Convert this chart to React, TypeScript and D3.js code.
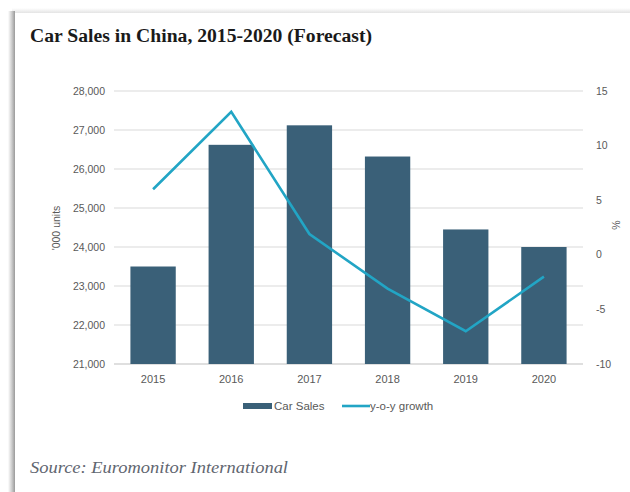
import React from "react";
import * as d3 from "d3";

const years = ["2015", "2016", "2017", "2018", "2019", "2020"];
const carSales = [23500, 26620, 27120, 26320, 24450, 24000];
const growth = [6.0, 13.1, 1.9, -3.1, -7.0, -2.0];
const leftTicks = [21000, 22000, 23000, 24000, 25000, 26000, 27000, 28000];
const rightTicks = [-10, -5, 0, 5, 10, 15];

const W = 630;
const H = 492;
const plot = { left: 114, right: 583, top: 91, bottom: 364 };
const barColor = "#3a6078";
const lineColor = "#22a5c5";
const textColor = "#595959";
const axisFont = "'Liberation Sans', Arial, sans-serif";
const serif = "'Liberation Serif', 'DejaVu Serif', serif";

export default function App() {
  const x = d3.scaleBand<string>().domain(years).range([plot.left, plot.right]).paddingInner(0.42).paddingOuter(0.21);
  const xc = (y: string) => (x(y) as number) + x.bandwidth() / 2;
  const yL = d3.scaleLinear().domain([21000, 28000]).range([plot.bottom, plot.top]);
  const yR = d3.scaleLinear().domain([-10, 15]).range([plot.bottom, plot.top]);
  const fmt = d3.format(",");
  const line = d3
    .line<number>()
    .x((_, i) => xc(years[i]))
    .y((d) => yR(d));

  return (
    <svg width={W} height={H} style={{ position: "absolute", left: 0, top: 0 }} xmlns="http://www.w3.org/2000/svg">
      <defs>
        <linearGradient id="lsh" x1="0" x2="1" y1="0" y2="0">
          <stop offset="0" stopColor="#ffffff" />
          <stop offset="0.5" stopColor="#d0d0d0" />
          <stop offset="1" stopColor="#9a9a9a" />
        </linearGradient>
        <linearGradient id="tsh" x1="0" x2="0" y1="0" y2="1">
          <stop offset="0" stopColor="#ffffff" />
          <stop offset="1" stopColor="#e4e4e4" />
        </linearGradient>
      </defs>
      <rect x={0} y={0} width={W} height={H} fill="#ffffff" />
      <rect x={12} y={8} width={W - 12} height={5} fill="url(#tsh)" />
      <rect x={8} y={11} width={7} height={H - 11} fill="url(#lsh)" />
      <rect x={15} y={13} width={W - 15} height={H - 13} fill="#ffffff" />

      <text x={30} y={42} fontFamily={serif} fontSize={18} fontWeight={700} fill="#1a1a1a" textLength={342} lengthAdjust="spacingAndGlyphs">
        Car Sales in China, 2015-2020 (Forecast)
      </text>

      {leftTicks.map((t) => (
        <line key={"g" + t} x1={plot.left} x2={plot.right} y1={yL(t)} y2={yL(t)} stroke={t === 21000 ? "#bfbfbf" : "#d9d9d9"} strokeWidth={1} />
      ))}

      {years.map((yv, i) => (
        <rect key={"b" + yv} x={x(yv)} y={yL(carSales[i])} width={x.bandwidth()} height={plot.bottom - yL(carSales[i])} fill={barColor} />
      ))}

      <path d={line(growth) as string} fill="none" stroke={lineColor} strokeWidth={2.6} strokeLinejoin="miter" />

      {leftTicks.map((t) => (
        <text key={"l" + t} x={105} y={yL(t)} dy="0.35em" textAnchor="end" fontFamily={axisFont} fontSize={10.5} fill={textColor}>
          {fmt(t)}
        </text>
      ))}
      {rightTicks.map((t) => (
        <text key={"r" + t} x={596} y={yR(t)} dy="0.35em" textAnchor="start" fontFamily={axisFont} fontSize={10.5} fill={textColor}>
          {t}
        </text>
      ))}
      {years.map((yv) => (
        <text key={"x" + yv} x={xc(yv)} y={383} textAnchor="middle" fontFamily={axisFont} fontSize={11} fill={textColor}>
          {yv}
        </text>
      ))}

      <text transform={`translate(60,228) rotate(-90)`} textAnchor="middle" fontFamily={axisFont} fontSize={10.5} fill={textColor}>
        '000 units
      </text>
      <text transform={`translate(620,225) rotate(-90)`} textAnchor="middle" fontFamily={axisFont} fontSize={10.5} fill={textColor}>
        %
      </text>

      <rect x={243} y={403} width={29} height={6} fill={barColor} />
      <text x={274} y={410} fontFamily={axisFont} fontSize={11.5} fill={textColor}>
        Car Sales
      </text>
      <line x1={342} x2={370} y1={406} y2={406} stroke={lineColor} strokeWidth={2.6} />
      <text x={370} y={410} fontFamily={axisFont} fontSize={11.5} fill={textColor}>
        y-o-y growth
      </text>

      <text x={30} y={473} fontFamily={serif} fontStyle="italic" fontSize={16} fill="#5f6670" textLength={258} lengthAdjust="spacingAndGlyphs">
        Source: Euromonitor International
      </text>
    </svg>
  );
}
